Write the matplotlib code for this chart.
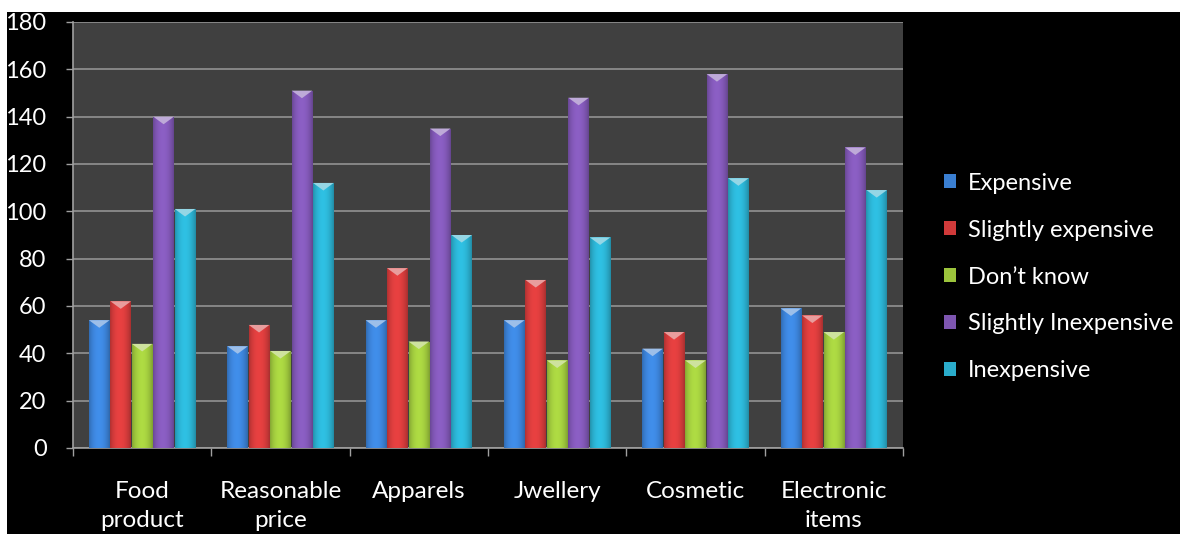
import numpy as np
import matplotlib.pyplot as plt
from matplotlib.patches import Polygon, Rectangle
from matplotlib.colors import to_rgb

plt.rcParams['font.family'] = ['Lato', 'DejaVu Sans']

categories = ['Food\nproduct', 'Reasonable\nprice', 'Apparels', 'Jwellery', 'Cosmetic', 'Electronic\nitems']
series = ['Expensive', 'Slightly expensive', "Don\u2019t know", 'Slightly Inexpensive', 'Inexpensive']
expensive = [54, 43, 54, 54, 42, 59]
slightly_expensive = [62, 52, 76, 71, 49, 56]
dont_know = [44, 41, 45, 37, 37, 49]
slightly_inexpensive = [140, 151, 135, 148, 158, 127]
inexpensive = [101, 112, 90, 89, 114, 109]
values = [expensive, slightly_expensive, dont_know, slightly_inexpensive, inexpensive]
colors = ['#3a7fd2', '#d03a3a', '#9cc43c', '#7d55b0', '#2aaccb']

fig = plt.figure(figsize=(11.8, 5.34), dpi=100, facecolor='white')
# black slide background
fig.patches.append(Rectangle((7 / 1180, 0), 1 - 7 / 1180, 1 - 12 / 534,
                             transform=fig.transFigure, facecolor='black',
                             edgecolor='none', zorder=-1))
ax = fig.add_axes([73 / 1180, 1 - 448 / 534, 830 / 1180, 426 / 534])
ax.set_facecolor('#404040')

n = len(series)
width = 0.775 / n
x = np.arange(len(categories))

# horizontal shading profile for cylinder-like bars
prof = np.linspace(0, 1, 64)
shade = 0.68 + 0.5 * np.sin(np.pi * (prof * 0.85 + 0.05)) ** 0.6 - 0.12 * prof

for i, (vals, c) in enumerate(zip(values, colors)):
    base = np.array(to_rgb(c))
    bars = ax.bar(x + (i - (n - 1) / 2) * width, vals, width * 0.96,
                  color=c, label=series[i], zorder=3)
    for rect, v in zip(bars, vals):
        x0 = rect.get_x()
        x1 = x0 + rect.get_width()
        img = np.clip(base[None, None, :] * shade[None, :, None], 0, 1)
        im = ax.imshow(img, extent=(x0, x1, 0, v), aspect='auto',
                       interpolation='bilinear', zorder=4)
        im.set_clip_path(rect)
        top = base + (1 - base) * 0.5
        ax.add_patch(Polygon([(x0, v), (x1, v), ((x0 + x1) / 2, v - 3.2)],
                             closed=True, facecolor=top, edgecolor='none',
                             zorder=5))

ax.set_xlim(-0.5, len(categories) - 0.5)
ax.set_ylim(0, 180)
ax.set_yticks(np.arange(0, 181, 20))
ax.yaxis.grid(True, color='#8c8c8c', linewidth=1.3)
ax.set_axisbelow(True)

ax.set_xticks(np.arange(-0.5, len(categories)), labels=[])
ax.set_xticks(x, labels=categories, minor=True)
ax.tick_params(axis='x', which='major', length=6, color='#a0a0a0', width=1)
ax.tick_params(axis='x', which='minor', length=0, pad=24,
               labelcolor='white', labelsize=17.5)
ax.tick_params(axis='y', length=5, color='#a0a0a0', width=1, pad=14,
               labelcolor='white', labelsize=17)
for lbl in ax.get_xticklabels(minor=True):
    lbl.set_linespacing(1.45)

for side in ['top', 'right']:
    ax.spines[side].set_visible(False)
for side in ['left', 'bottom']:
    ax.spines[side].set_color('#a0a0a0')
    ax.spines[side].set_linewidth(1.2)

leg = fig.legend(loc='center left', bbox_to_anchor=(935 / 1180, 1 - 277 / 534),
                 frameon=False, fontsize=17, labelcolor='white',
                 handlelength=0.5, handleheight=0.5, handletextpad=0.5,
                 labelspacing=1.1, borderaxespad=0)

fig.savefig('out.png', dpi=100, facecolor=fig.get_facecolor())
